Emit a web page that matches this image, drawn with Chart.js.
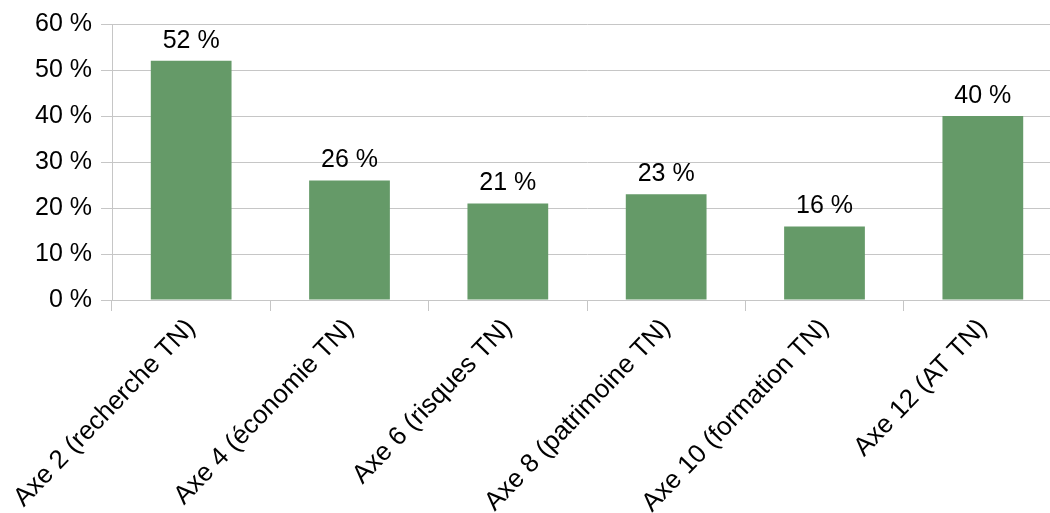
<!DOCTYPE html>
<html>
<head>
<meta charset="utf-8">
<script src="https://cdn.jsdelivr.net/npm/chart.js@4/dist/chart.umd.min.js"></script>
<style>
  html, body { margin: 0; padding: 0; background: #fff; overflow: hidden; }
  #wrap { width: 1062px; height: 513px; position: relative; }
</style>
</head>
<body>
<div id="wrap"><canvas id="grafico"></canvas></div>
<script>
// Données du graphique
const categories = ['Axe 2 (recherche TN)', 'Axe 4 (économie TN)', 'Axe 6 (risques TN)', 'Axe 8 (patrimoine TN)', 'Axe 10 (formation TN)', 'Axe 12 (AT TN)']
const valeurs = [52, 26, 21, 23, 16, 40]
const ticksY = [0, 10, 20, 30, 40, 50, 60]

const vert = '#659a68'
const grille = '#c6c6c6'
const police = "'Liberation Sans', Arial, sans-serif"

// Étiquettes au-dessus des barres
const etiquettes = {
  id: 'etiquettes',
  afterDatasetsDraw(chart) {
    const c = chart.ctx
    const meta = chart.getDatasetMeta(0)
    c.save()
    c.font = '25px ' + police
    c.fillStyle = '#000'
    c.textAlign = 'center'
    c.textBaseline = 'alphabetic'
    meta.data.forEach((bar, i) => {
      c.fillText(valeurs[i] + ' %', bar.x, bar.y - 13)
    })
    c.restore()
  }
}

const ctx = document.getElementById('grafico')
new Chart(ctx, {
  type: 'bar',
  data: {
    labels: categories,
    datasets: [{ data: valeurs, backgroundColor: vert, categoryPercentage: 1, barPercentage: 0.51 }]
  },
  plugins: [etiquettes],
  options: {
    responsive: true,
    maintainAspectRatio: false,
    animation: false,
    devicePixelRatio: 1,
    layout: { padding: { top: 13, right: 0, left: 0, bottom: 0 } },
    plugins: { legend: { display: false }, tooltip: { enabled: false } },
    scales: {
      x: {
        grid: { display: true, drawOnChartArea: false, color: grille, tickLength: 11, offset: true },
        border: { color: grille },
        ticks: { maxRotation: 46, minRotation: 46, color: '#000', font: { family: police, size: 26 }, padding: 2 },
        afterFit: s => { s.height = 213 }
      },
      y: {
        min: 0, max: 60,
        afterBuildTicks: s => { s.ticks = ticksY.map(v => ({ value: v })) },
        grid: { color: grille, tickLength: 11 },
        border: { color: grille },
        ticks: { color: '#000', font: { family: police, size: 25 }, padding: 9, callback: v => v + ' %' },
        afterFit: s => { s.width = 112 }
      }
    }
  }
})
</script>
</body>
</html>
